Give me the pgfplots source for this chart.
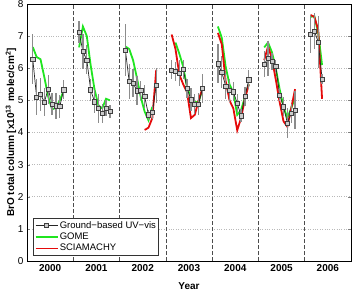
\documentclass[border=0pt]{standalone}
\usepackage{fontspec}
\setmainfont{Liberation Sans}
\usepackage{pgfplots}
\pgfplotsset{compat=1.18}

\definecolor{gomegreen}{rgb}{0.12,0.9,0.12}
\definecolor{sciared}{rgb}{0.9,0.04,0.04}
\definecolor{barGray}{gray}{0.55}
\definecolor{markGray}{gray}{0.8}

% Monthly means, February to October of each year; x is the decimal year
% (month centre), rows with nan break the line between seasons.
\pgfplotstableread{
x        y     e
2000.125 6.28  0.78
2000.208 5.10  0.55
2000.292 5.19  0.52
2000.375 4.95  0.45
2000.458 5.35  0.45
2000.542 4.89  0.35
2000.625 4.83  0.40
2000.708 4.81  0.35
2000.792 5.33  0.30
2000.900 nan   0
2001.125 7.13  0.35
2001.208 6.52  0.55
2001.292 6.26  0.45
2001.375 5.33  0.35
2001.458 4.96  0.35
2001.542 4.76  0.45
2001.625 4.60  0.30
2001.708 4.76  0.25
2001.792 4.66  0.20
2001.900 nan   0
2002.125 6.57  0.80
2002.208 5.59  0.55
2002.292 5.54  0.45
2002.375 5.30  0.45
2002.458 5.31  0.30
2002.542 5.12  0.35
2002.625 4.55  0.15
2002.708 4.62  0.20
2002.792 5.47  0.55
2002.900 nan   0
2003.125 5.95  0.30
2003.208 5.90  0.30
2003.292 5.85  0.40
2003.375 5.97  0.30
2003.458 5.38  0.30
2003.542 5.02  0.35
2003.625 4.89  0.30
2003.708 4.89  0.35
2003.792 5.38  0.45
2003.900 nan   0
2004.125 6.14  0.60
2004.208 5.88  0.50
2004.292 5.45  0.40
2004.375 5.31  0.35
2004.458 5.27  0.30
2004.542 4.91  0.30
2004.625 4.52  0.20
2004.708 5.12  0.30
2004.792 5.64  0.30
2004.900 nan   0
2005.125 6.13  0.40
2005.208 6.31  0.55
2005.292 6.21  0.25
2005.375 6.07  0.20
2005.458 5.17  0.20
2005.542 4.80  0.30
2005.625 4.30  0.47
2005.708 4.60  0.30
2005.792 4.70  0.60
2005.900 nan   0
2006.125 7.07  0.58
2006.208 7.16  0.55
2006.292 6.82  0.80
2006.375 5.67  0.15
}\groundbased

\pgfplotstableread{
x        y
2000.125 6.66
2000.208 6.35
2000.292 6.28
2000.375 5.72
2000.458 5.12
2000.542 4.72
2000.625 4.77
2000.708 5.00
2000.792 5.30
2000.900 nan
2001.125 6.65
2001.208 7.30
2001.292 7.00
2001.375 6.10
2001.458 5.35
2001.542 4.85
2001.625 4.75
2001.708 5.05
2001.792 5.00
2001.900 nan
2002.125 6.68
2002.208 6.60
2002.292 6.25
2002.375 5.70
2002.458 5.10
2002.542 4.65
2002.625 4.38
2002.708 4.80
2002.900 nan
2003.208 6.80
2003.292 6.45
2003.375 6.05
2003.458 5.40
2003.542 5.10
2003.625 4.95
2003.708 4.95
2003.792 5.35
2003.900 nan
2004.125 7.30
2004.208 6.95
2004.292 6.05
2004.375 5.50
2004.458 5.25
2004.542 4.55
2004.625 4.70
2004.708 5.10
2004.792 5.50
2004.900 nan
2005.125 6.65
2005.208 6.80
2005.292 6.50
2005.375 6.00
2005.458 5.35
2005.542 4.80
2005.625 4.45
2005.708 4.75
2005.792 5.10
2005.900 nan
2006.125 7.60
2006.208 7.62
2006.292 7.10
2006.375 6.10
}\gome

\pgfplotstableread{
x        y
2002.542 4.08
2002.625 4.15
2002.708 4.45
2002.792 5.95
2002.900 nan
2003.125 7.05
2003.208 6.60
2003.292 5.80
2003.375 5.50
2003.458 5.25
2003.542 4.45
2003.625 4.55
2003.708 5.00
2003.792 5.38
2003.900 nan
2004.125 7.10
2004.208 6.75
2004.292 5.60
2004.375 5.00
2004.458 4.75
2004.542 4.07
2004.625 4.45
2004.708 5.05
2004.792 5.50
2004.900 nan
2005.125 6.25
2005.208 6.68
2005.292 6.30
2005.375 5.65
2005.458 4.95
2005.542 4.35
2005.625 4.18
2005.708 4.75
2005.792 5.35
2005.900 nan
2006.125 7.66
2006.208 7.60
2006.292 7.20
2006.375 5.05
}\sciamachy

\begin{document}
\begin{tikzpicture}
\useasboundingbox (-27pt,-29pt) rectangle (328pt,261pt);
\begin{axis}[
  scale only axis, width=324pt, height=257pt,
  xmin=2000, xmax=2007, ymin=0, ymax=8,
  xtick={2000.5,2001.5,2002.5,2003.5,2004.5,2005.5,2006.5},
  xticklabels={2000,2001,2002,2003,2004,2005,2006},
  xticklabel style={font=\fontsize{10}{12}\selectfont\bfseries},
  ytick={0,1,2,3,4,5,6,7,8},
  yticklabel style={font=\fontsize{10}{12}\selectfont},
  /pgf/number format/assume math mode=true,
  tick align=inside,
  major tick length=3pt,
  x tick style={draw=none},
  ymajorgrids,
  grid style={dotted, gray!55, line width=0.6pt},
  extra x ticks={2001,2002,2003,2004,2005,2006},
  extra x tick labels={},
  extra x tick style={grid=major,
    major grid style={dash pattern=on 4pt off 2pt, black!70, line width=0.6pt},
    tick style={draw=none}},
  axis line style={line width=0.7pt},
  unbounded coords=jump,
  xlabel={Year},
  ylabel={BrO total column [x10\textsuperscript{13} molec/cm\textsuperscript{2}]},
  label style={font=\fontsize{10}{12}\selectfont\bfseries},
  xlabel style={at={(axis description cs:0.5,-0.0973)}, anchor=center},
  ylabel style={at={(axis description cs:-0.0494,0.5)}, anchor=center},
  legend style={at={(axis description cs:0.0185,0.0195)}, anchor=south west,
    font=\fontsize{9.5}{11}\selectfont, draw=black!80, line width=0.6pt,
    row sep=0pt, inner sep=1.5pt,
    nodes={inner sep=1.2pt, text height=7pt, text depth=2pt},
    cells={anchor=west}},
  legend image code/.code={%
    \draw[mark repeat=2,mark phase=2,#1] plot coordinates {(0pt,0pt) (11pt,0pt) (22pt,0pt)};},
]
\addlegendimage{black!85, line width=0.7pt, mark=square*, mark size=2pt,
  mark options={fill=markGray, draw=black!75, line width=0.5pt, solid}}
\addlegendentry{Ground−based UV−vis}
\addlegendimage{gomegreen, line width=1.8pt}
\addlegendentry{GOME}
\addlegendimage{sciared, line width=1.8pt}
\addlegendentry{SCIAMACHY}

% satellite columns
\addplot[gomegreen, line width=1.8pt, forget plot] table[x=x, y=y] {\gome};
\addplot[sciared, line width=1.8pt, forget plot] table[x=x, y=y] {\sciamachy};

% ground-based monthly means with standard deviation
\addplot[black!85, line width=0.7pt, mark=square*, mark size=2.1pt,
  mark options={fill=markGray, draw=black!75, line width=0.5pt, solid},
  forget plot,
  error bars/.cd, y dir=both, y explicit, error mark=none,
  error bar style={barGray, line width=1.2pt}]
  table[x=x, y=y, y error=e] {\groundbased};
\end{axis}
\end{tikzpicture}
\end{document}
